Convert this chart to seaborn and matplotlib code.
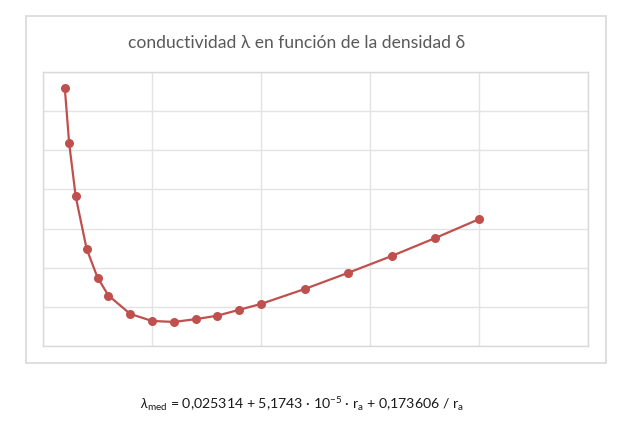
import numpy as np
import pandas as pd
import matplotlib
matplotlib.use("Agg")
import matplotlib.pyplot as plt
import seaborn as sns
from matplotlib.patches import Rectangle

densidad = [10, 12, 15, 20, 25, 30, 40, 50, 60, 70, 80, 90, 100, 120, 140, 160, 180, 200]
conductividad = [0.04318, 0.04036, 0.03764, 0.03497, 0.03350, 0.03258, 0.03164, 0.03128,
                 0.03123, 0.03137, 0.03155, 0.03185, 0.03215, 0.03291, 0.03374, 0.03460,
                 0.03552, 0.03648]

titulo = "conductividad λ en función de la densidad δ"
formula = (r"$\lambda_{\mathrm{med}}$ = 0,025314 + 5,1743 · 10$^{\mathrm{-5}}$ · r$_{\mathrm{a}}$"
           r" + 0,173606 / r$_{\mathrm{a}}$")

df = pd.DataFrame({"r": densidad, "lam": conductividad})

sns.set_style("whitegrid")
plt.rcParams["font.family"] = ["Lato", "DejaVu Sans"]
plt.rcParams["mathtext.fontset"] = "custom"
plt.rcParams["mathtext.rm"] = "Lato"
plt.rcParams["mathtext.it"] = "Lato:italic"

W, H = 632, 435
fig = plt.figure(figsize=(W / 100, H / 100), dpi=100)

# marco exterior del grafico
fig.patches.append(Rectangle((26 / W, 1 - 364 / H), 580 / W, 347 / H, transform=fig.transFigure,
                             fill=False, edgecolor="#d9d9d9", linewidth=1.2))

ax = fig.add_axes([43 / W, 1 - 347 / H, 545 / W, 274 / H])
sns.lineplot(data=df, x="r", y="lam", ax=ax, color="#c0504d", linewidth=1.6,
             marker="o", markersize=6.5, markeredgewidth=0, markerfacecolor="#c0504d")

ax.set_xlim(0, 250)
ax.set_ylim(0.030, 0.044)
ax.set_xticks(np.arange(0, 251, 50))
ax.set_yticks(np.arange(0.030, 0.0441, 0.002))
ax.set_xticklabels([])
ax.set_yticklabels([])
ax.tick_params(length=0)
ax.set_xlabel("")
ax.set_ylabel("")
ax.grid(True, color="#e3e3e3", linewidth=1.0)
for s in ax.spines.values():
    s.set_color("#d9d9d9")
    s.set_linewidth(1.0)

fig.text(297 / W, 1 - 43 / H, titulo, ha="center", va="center", fontsize=12.6, color="#595959")
fig.text(302 / W, 1 - 404 / H, formula, ha="center", va="center", fontsize=10.2, color="#1a1a1a")

fig.savefig("out.png", dpi=100)
